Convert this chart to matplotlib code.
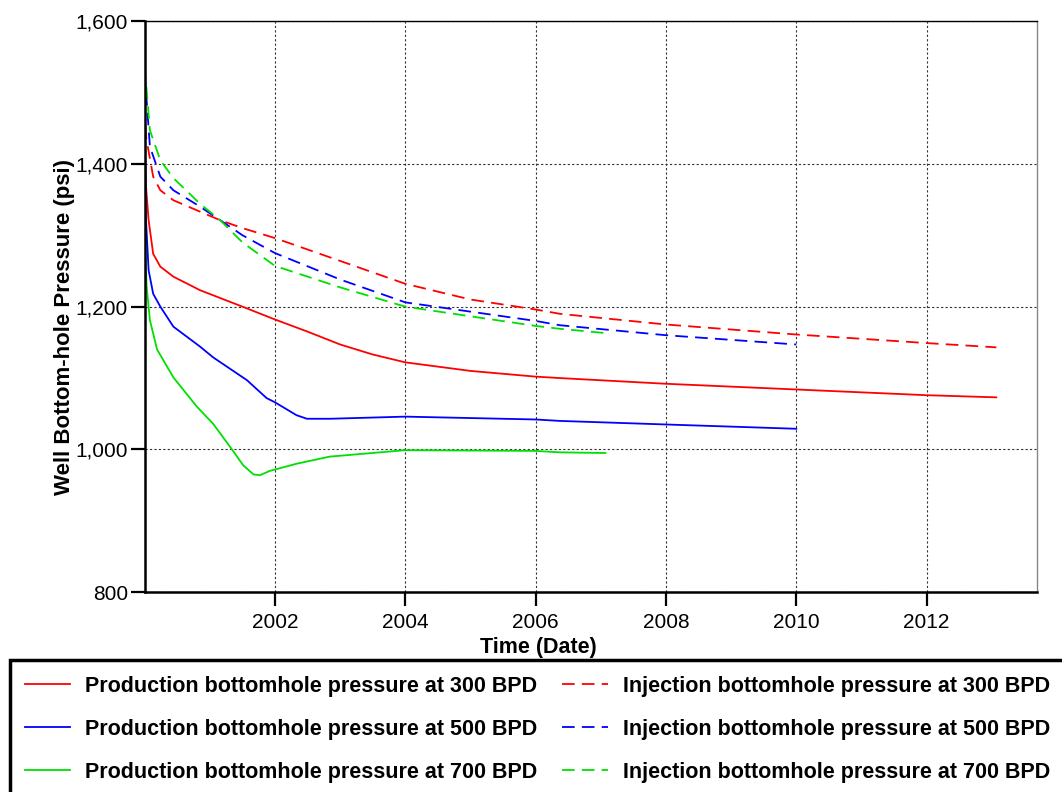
import matplotlib
matplotlib.use("Agg")
import matplotlib.pyplot as plt
from matplotlib.patches import Rectangle
from matplotlib.ticker import FuncFormatter

# ---- data (time in fractional years, pressure in psi) ----
prod300_t = [2000.0, 2000.01, 2000.02, 2000.06, 2000.13, 2000.24, 2000.44, 2000.85, 2001.5, 2002.0,
             2002.5, 2003.0, 2003.5, 2004.0, 2005.0, 2006.0, 2006.37, 2008.0, 2010.0, 2012.0, 2013.07]
prod300_p = [1440, 1400, 1368, 1321, 1274, 1256, 1242, 1223, 1200, 1182,
             1165, 1147, 1133, 1122, 1110, 1102, 1100, 1092, 1084, 1076, 1073]

prod500_t = [2000.0, 2000.01, 2000.02, 2000.06, 2000.13, 2000.24, 2000.44, 2000.85, 2001.05, 2001.57,
             2001.87, 2002.0, 2002.33, 2002.49, 2002.84, 2004.0, 2006.0, 2006.37, 2008.0, 2010.0]
prod500_p = [1500, 1400, 1321, 1251, 1218, 1200, 1172, 1144, 1129, 1097,
             1072, 1066, 1048, 1043, 1043, 1046, 1042, 1040, 1035, 1029]

prod700_t = [2000.0, 2000.005, 2000.01, 2000.03, 2000.08, 2000.19, 2000.44, 2000.8, 2001.05, 2001.34,
             2001.51, 2001.67, 2001.77, 2001.92, 2002.33, 2002.84, 2004.0, 2006.0, 2006.37, 2007.07]
prod700_p = [1580, 1400, 1275, 1228, 1181, 1140, 1101, 1060, 1036, 1000,
             978, 965, 964, 970, 980, 990, 999, 998, 996, 995]

inj300_t = [2000.0, 2000.02, 2000.13, 2000.24, 2000.44, 2000.85, 2001.16, 2001.5, 2002.0, 2003.0,
            2004.0, 2005.0, 2006.0, 2006.37, 2008.0, 2010.0, 2012.0, 2013.07]
inj300_p = [1480, 1438, 1382, 1363, 1349, 1333, 1321, 1310, 1296, 1264,
            1232, 1210, 1196, 1190, 1175, 1161, 1149, 1143]

inj500_t = [2000.0, 2000.08, 2000.24, 2000.44, 2000.85, 2001.16, 2001.5, 2002.0, 2003.0, 2004.0,
            2006.0, 2006.37, 2008.0, 2010.0]
inj500_p = [1527, 1424, 1382, 1363, 1340, 1321, 1300, 1275, 1238, 1206,
            1180, 1174, 1160, 1147]

inj700_t = [2000.0, 2000.08, 2000.24, 2000.44, 2000.85, 2001.16, 2001.5, 2002.0, 2003.0, 2004.0,
            2006.0, 2006.37, 2007.07]
inj700_p = [1536, 1447, 1405, 1380, 1344, 1321, 1290, 1257, 1227, 1200,
            1173, 1169, 1163]

xticks = [2002, 2004, 2006, 2008, 2010, 2012]
yticks = [800, 1000, 1200, 1400, 1600]

labels = ["Production bottomhole pressure at 300 BPD",
          "Production bottomhole pressure at 500 BPD",
          "Production bottomhole pressure at 700 BPD",
          "Injection bottomhole pressure at 300 BPD",
          "Injection bottomhole pressure at 500 BPD",
          "Injection bottomhole pressure at 700 BPD"]

plt.rcParams['font.family'] = ['Liberation Sans', 'DejaVu Sans']

W, H = 1062, 792
fig = plt.figure(figsize=(W/100, H/100), dpi=100)
ax = fig.add_axes([144.7/W, 1-592.3/H, (1036.7-144.7)/W, (592.3-21)/H])

red, blue, green = '#ff0000', '#0000ff', '#00e000'
dash = (0, (7, 4))
lw = 1.3
h1, = ax.plot(prod300_t, prod300_p, color=red, lw=lw)
h2, = ax.plot(prod500_t, prod500_p, color=blue, lw=lw)
h3, = ax.plot(prod700_t, prod700_p, color=green, lw=lw)
h4, = ax.plot(inj300_t, inj300_p, color=red, lw=lw, linestyle=dash)
h5, = ax.plot(inj500_t, inj500_p, color=blue, lw=lw, linestyle=dash)
h6, = ax.plot(inj700_t, inj700_p, color=green, lw=lw, linestyle=dash)

ax.set_xlim(2000.0, 2013.69)
ax.set_ylim(800, 1600)
ax.set_xticks(xticks)
ax.set_yticks(yticks)
ax.yaxis.set_major_formatter(FuncFormatter(lambda v, p: f"{int(v):,}"))
ax.grid(True, color='#333333', linestyle=(0, (2, 2)), linewidth=0.8)
ax.tick_params(direction='out', length=10, width=1.6, labelsize=15)
ax.tick_params(axis='y', pad=2)
ax.tick_params(axis='x', pad=5)

for s in ['left', 'bottom']:
    ax.spines[s].set_linewidth(1.8)
ax.spines['top'].set_linewidth(1.0)
ax.spines['right'].set_linewidth(1.0)
ax.spines['right'].set_color('#888888')

fig.text(538/W, 1-647/H, "Time (Date)", fontsize=15.5, fontweight='bold',
         ha='center', va='center')
fig.text(65/W, 1-327/H, "Well Bottom-hole Pressure (psi)", fontsize=16, fontweight='bold',
         ha='center', va='center', rotation=90)

# legend box
fig.patches.append(Rectangle((10/W, -0.05), 1.1, 0.05 + 1-660/H, transform=fig.transFigure,
                             fill=False, edgecolor='black', linewidth=2.5))
fig.legend([h1, h2, h3, h4, h5, h6], labels, ncol=2, loc='upper left',
           bbox_to_anchor=(16.5/W, 1-667/H), frameon=False,
           prop={'weight': 'bold', 'size': 15.5}, handlelength=2.1, handletextpad=0.7,
           columnspacing=1.15, labelspacing=1.03, borderaxespad=0)

fig.savefig("out.png", dpi=100)
